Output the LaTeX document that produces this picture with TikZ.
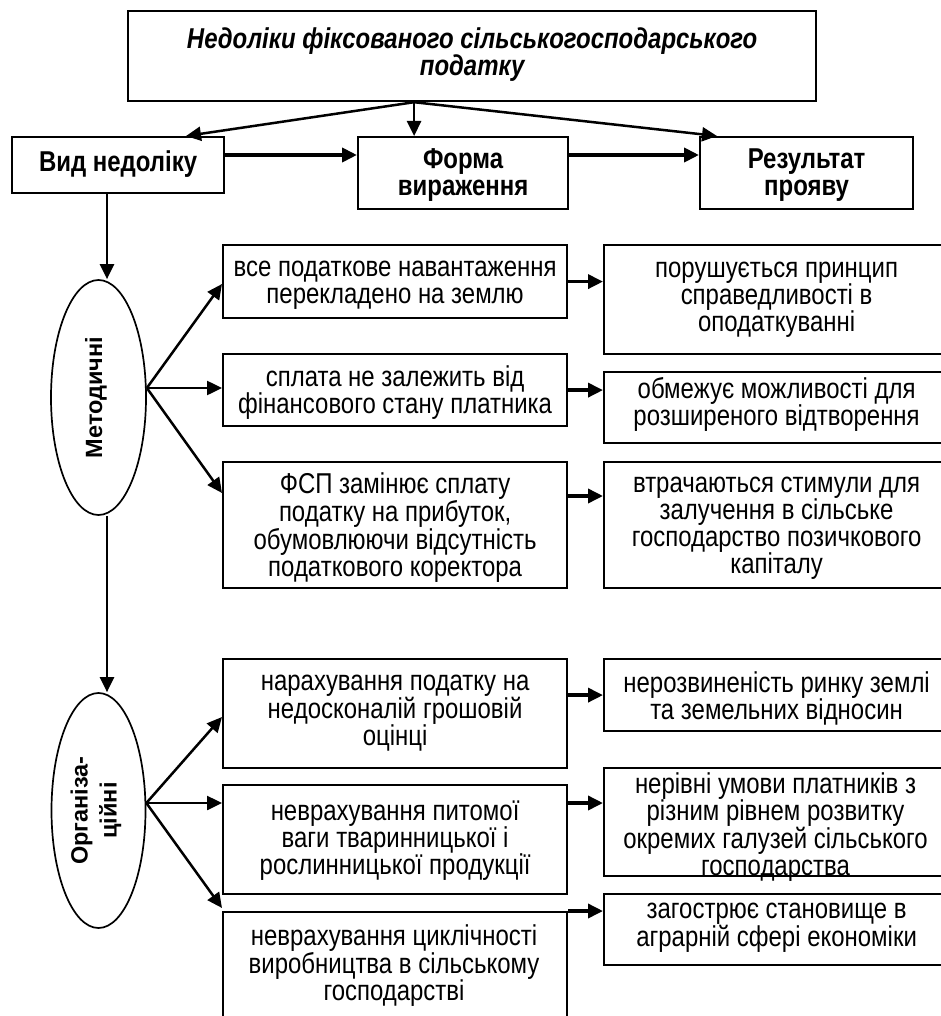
\documentclass[tikz,border=0pt]{standalone}
\usepackage{fontspec}
\setmainfont{Liberation Sans}
% tall, slightly condensed lettering for the boxes
\newfontfamily\bodyfont[FakeStretch=0.835]{Liberation Sans}
\usetikzlibrary{arrows.meta,shapes.geometric}

\tikzset{
  box/.style={draw, line width=2.2pt, rectangle, inner sep=0pt, anchor=north west},
  txt/.style={inner sep=0pt, align=center, font=\bodyfont\fontsize{28.7}{27}\selectfont,
              execute at begin node=\strut, execute at end node=\strut},
  headtxt/.style={txt, font=\bodyfont\fontsize{28.7}{27}\selectfont\bfseries},
  oval/.style={draw, ellipse, line width=1.7pt, inner sep=0pt},
  vtext/.style={inner sep=0pt, align=center, rotate=90,
                font=\fontsize{23.5}{29}\selectfont\bfseries},
  tip/.style={-{Triangle[length=15pt,width=14pt]}},
  conn/.style={tip, line width=2.5pt},
  bold conn/.style={tip, line width=3.5pt},
  heavy conn/.style={tip, line width=4.5pt},
}

\begin{document}
\begin{tikzpicture}[x=1pt, y=-1pt]
\useasboundingbox (0,0) rectangle (941,1016);
\clip (0,0) rectangle (941,1016);

% title and column headings
\node[box, minimum width=688, minimum height=90] (top) at (127,10) {};
\node[headtxt, font=\bodyfont\fontsize{28.7}{27}\selectfont\bfseries\itshape] (topt)
  at ([yshift=0.5pt]top.center) {Недоліки фіксованого сільськогосподарського\\податку};
\node[box, minimum width=212, minimum height=56] (vid) at (11,136) {};
\node[headtxt] (vidt) at (vid.center) {Вид недоліку};
\node[box, minimum width=210, minimum height=72] (forma) at (357,136) {};
\node[headtxt] (format) at ([yshift=-3pt]forma.center) {Форма\\вираження};
\node[box, minimum width=213, minimum height=72] (res) at (699,136) {};
\node[headtxt] (rest) at ([yshift=-3pt]res.center) {Результат\\прояву};

% methodical group: forms of expression
\node[box, minimum width=344, minimum height=73] (a1) at (222,244) {};
\node[txt] (a1t) at ([yshift=-5pt]a1.center)
  {все податкове навантаження\\перекладено на землю};
\node[box, minimum width=344, minimum height=72] (a2) at (222,353) {};
\node[txt] (a2t) at ([yshift=-3.5pt]a2.center)
  {сплата не залежить від\\фінансового стану платника};
\node[box, minimum width=344, minimum height=126] (a3) at (222,461) {};
\node[txt] (a3t) at ([yshift=-4pt]a3.center)
  {ФСП замінює сплату\\податку на прибуток,\\обумовлюючи відсутність\\податкового коректора};

% methodical group: results
\node[box, minimum width=345, minimum height=109] (b1) at (603,244) {};
\node[txt] (b1t) at ([yshift=-1.5pt]b1.center)
  {порушується принцип\\справедливості в\\оподаткуванні};
\node[box, minimum width=345, minimum height=71] (b2) at (603,371) {};
\node[txt] (b2t) at ([yshift=2pt]b2.center)
  {обмежує можливості для\\розширеного відтворення};
\node[box, minimum width=345, minimum height=126] (b3) at (603,461) {};
\node[txt] (b3t) at ([yshift=-4pt]b3.center)
  {втрачаються стимули для\\залучення в сільське\\господарство позичкового\\капіталу};

% organisational group: forms of expression
\node[box, minimum width=344, minimum height=109] (c1) at (222,658) {};
\node[txt] (c1t) at ([yshift=-1pt]c1.center)
  {нарахування податку на\\недосконалій грошовій\\оцінці};
\node[box, minimum width=344, minimum height=109] (c2) at (222,784) {};
\node[txt] (c2t) at ([yshift=-2pt]c2.center)
  {неврахування питомої\\ваги тваринницької і\\рослинницької продукції};
\node[box, minimum width=344, minimum height=130] (c3) at (222,911) {};
\node[txt] (c3t) at (394,967)
  {неврахування циклічності\\виробництва в сільському\\господарстві};

% organisational group: results
\node[box, minimum width=345, minimum height=72] (d1) at (603,658) {};
\node[txt] (d1t) at ([yshift=-5pt]d1.center)
  {нерозвиненість ринку землі\\та земельних відносин};
\node[box, minimum width=345, minimum height=108] (d2) at (603,767) {};
\node[txt] (d2t) at (775.5,828)
  {нерівні умови платників з\\різним рівнем розвитку\\окремих галузей сільського\\господарства};
\node[box, minimum width=345, minimum height=71] (d3) at (603,893) {};
\node[txt] (d3t) at ([yshift=1pt]d3.center)
  {загострює становище в\\аграрній сфері економіки};

% group ovals
\node[oval, minimum width=95, minimum height=235] (m) at (98.5,397.5) {};
\node[vtext] (mt) at ([xshift=-2.5pt]m.center) {Методичні};
\node[oval, minimum width=94, minimum height=235] (o) at (98.5,810.5) {};
\node[vtext] (ot) at ([xshift=-2.5pt]o.center) {Організа-\\ційні};

% connectors from the title
\coordinate (src) at ([xshift=-58pt]top.south);
\draw[conn] (src) -- ([xshift=175pt]vid.north west);
\draw[conn] (src) -- (forma.north -| src);
\draw[conn] (src) -- ([xshift=18pt]res.north west);

% heading row
\coordinate (hr) at ([yshift=-19pt]vid.north east);
\draw[heavy conn] (hr) -- (forma.west |- hr);
\draw[heavy conn] (forma.east |- hr) -- (res.west |- hr);

% spine down the left side
\coordinate (vx) at (107,0);
\draw[conn] (vid.south -| vx) -- (m.north -| vx);
\draw[conn] (m.south -| vx) -- (o.north -| vx);

% fan out of the methodical oval
\coordinate (mo) at ([yshift=9.5pt]m.east);
\draw[conn] (mo) -- ([yshift=-40pt]a1.north west);
\draw[conn] (mo) -- (a2.west |- mo);
\draw[conn] (mo) -- ([yshift=-32pt]a3.north west);

% fan out of the organisational oval
\coordinate (oo) at ([yshift=7.5pt]o.east);
\draw[conn] (oo) -- ([yshift=-59pt]c1.north west);
\draw[conn] (oo) -- (c2.west |- oo);
\draw[conn] (oo) -- ([yshift=3pt]c3.north west);

% form -> result
\draw[bold conn] (a1.east) -- (b1.west |- a1.east);
\draw[bold conn] (a2.east) -- (b2.west |- a2.east);
\coordinate (r3) at ([yshift=-35pt]a3.north east);
\draw[bold conn] (r3) -- (b3.west |- r3);
\draw[bold conn] (c1.east |- d1.west) -- (d1.west);
\coordinate (r5) at ([yshift=-19pt]c2.north east);
\draw[bold conn] (r5) -- (d2.west |- r5);
\draw[bold conn] (c3.north east) -- (d3.west |- c3.north east);
\end{tikzpicture}
\end{document}
